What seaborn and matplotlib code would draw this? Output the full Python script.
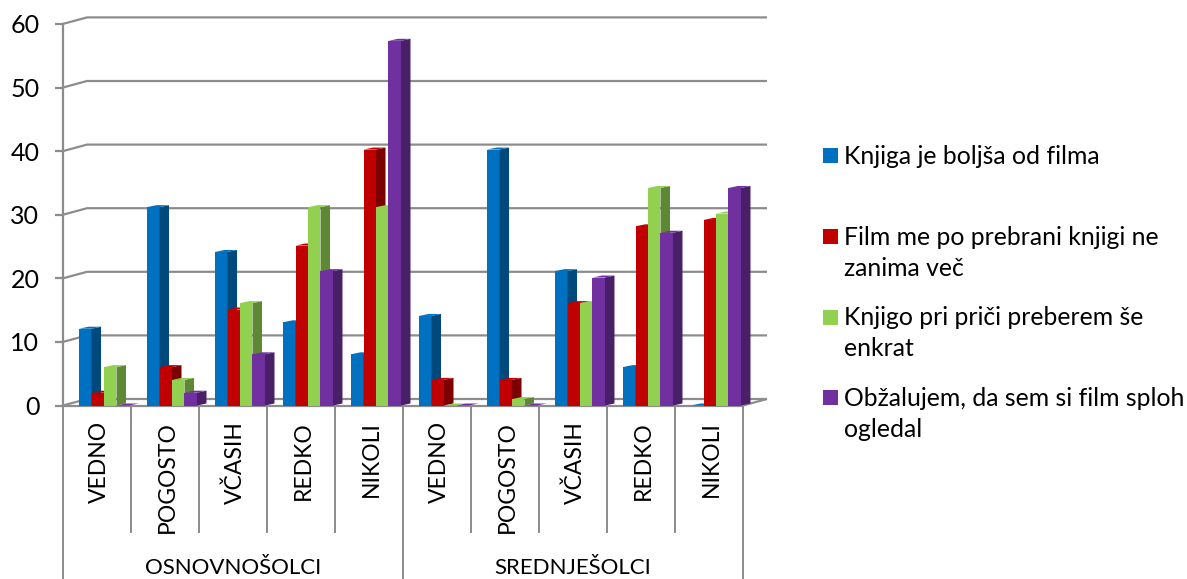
import matplotlib
matplotlib.use("Agg")
import matplotlib.pyplot as plt
from matplotlib.patches import Polygon, Rectangle
import pandas as pd
import seaborn as sns

# Survey answers, per frequency and school level
levels = ["OSNOVNOŠOLCI", "SREDNJEŠOLCI"]
frequencies = ["VEDNO", "POGOSTO", "VČASIH", "REDKO", "NIKOLI"]
series_names = [
    "Knjiga je boljša od filma",
    "Film me po prebrani knjigi ne\nzanima več",
    "Knjigo pri priči preberem še\nenkrat",
    "Obžalujem, da sem si film sploh\nogledal",
]
better_book = [12, 31, 24, 13, 8, 14, 40, 21, 6, 0]
no_interest = [2, 6, 15, 25, 40, 4, 4, 16, 28, 29]
read_again = [6, 4, 16, 31, 31, 0, 1, 16, 34, 30]
regret_film = [0, 2, 8, 21, 57, 0, 0, 20, 27, 34]
y_ticks = [0, 10, 20, 30, 40, 50, 60]

front_colors = ["#0070C0", "#C00000", "#92D050", "#7030A0"]
side_colors = ["#00497D", "#7D0000", "#5F8834", "#491F68"]
line_color = "#8C8C8C"
text_color = "#000000"

W, H = 1187, 579
PX_X = 1 / 68.0          # data units per pixel, horizontally
PX_Y = 1 / 6.36          # data units per pixel, vertically
X_LO = -41 * PX_X        # left edge of the plot, in category units
NEAR_PLANE = 1.006       # bars stand slightly nearer than the axis plane

sns.set_theme(style="white")
plt.rcParams["font.family"] = ["Lato", "DejaVu Sans"]

rows = []
for name, vals in zip(series_names, [better_book, no_interest, read_again, regret_film]):
    for i, v in enumerate(vals):
        rows.append({"slot": i, "series": name, "value": v})
df = pd.DataFrame(rows)

fig = plt.figure(figsize=(W / 100, H / 100), dpi=100, facecolor="white")
ax = fig.add_axes([63 / W, 1 - 405.5 / H, 680 / W, 381.6 / H])
ax.set_facecolor("none")

sns.barplot(
    data=df, x="slot", y="value", hue="series",
    hue_order=series_names, palette=front_colors, width=0.735, gap=0,
    dodge=True, errorbar=None, saturation=1, legend=False, ax=ax,
    linewidth=0, zorder=3,
)
ax.set_xlim(X_LO, X_LO + 10)
ax.set_ylim(0, 60)
ax.set_xlabel("")
ax.set_ylabel("")

# Back wall depth, and the depth of each bar
wall_dx, wall_dy = 24 * PX_X, 6.5 * PX_Y
bar_dx, bar_dy = 9.5 * PX_X, 2 * PX_Y

# Extrude every bar: side and top faces sit just above the bar's own front
for k, container in enumerate(ax.containers):
    front_z = 3 + 2 * k
    for patch in container:
        patch.set_zorder(front_z)
        patch.set_height(patch.get_height() * NEAR_PLANE)
        x0, w, h = patch.get_x(), patch.get_width(), patch.get_height()
        x1 = x0 + w
        side = Polygon([(x1, 0), (x1 + bar_dx, bar_dy), (x1 + bar_dx, h + bar_dy), (x1, h)],
                       closed=True, fc=side_colors[k], ec="none", zorder=front_z + 1, clip_on=False)
        top = Polygon([(x0, h), (x0 + bar_dx, h + bar_dy), (x1 + bar_dx, h + bar_dy), (x1, h)],
                      closed=True, fc=front_colors[k], ec="none", zorder=front_z + 1, clip_on=False)
        ax.add_patch(side)
        ax.add_patch(top)

# Gridlines run across the back wall and fold forward along the left wall
line_kw = dict(color=line_color, lw=1.6, solid_capstyle="butt", clip_on=False)
x_hi = X_LO + 10
for v in y_ticks:
    ax.plot([X_LO, X_LO + wall_dx, x_hi + wall_dx], [v, v + wall_dy, v + wall_dy], zorder=1, **line_kw)
ax.plot([x_hi, x_hi + wall_dx], [0, wall_dy], zorder=1, **line_kw)

for side_name in ["top", "right"]:
    ax.spines[side_name].set_visible(False)
for side_name in ["left", "bottom"]:
    ax.spines[side_name].set_color(line_color)
    ax.spines[side_name].set_linewidth(1.6)
    ax.spines[side_name].set_zorder(2)

ax.set_yticks(y_ticks)
ax.set_yticklabels([str(v) for v in y_ticks], fontsize=18, color=text_color)
ax.tick_params(axis="y", length=6, width=1.6, color=line_color, pad=11, left=True)

# Category labels read upward beneath the axis
ax.set_xticks([X_LO + 0.5 + 2.5 * PX_X + i for i in range(10)])
ax.set_xticklabels(frequencies * 2, rotation=90, fontsize=16.5, color=text_color)
ax.tick_params(axis="x", length=0, pad=11, bottom=False)

# Two-tier category separators and the school-level labels
sep_kw = dict(color=line_color, lw=1.4, solid_capstyle="butt", clip_on=False, zorder=1)
for i in range(11):
    bottom = 579 if i % 5 == 0 else 533
    ax.plot([X_LO + i, X_LO + i], [0, -(bottom - 405.5) * PX_Y], **sep_kw)
for j, level in enumerate(levels):
    ax.text(X_LO + 2.5 + 5 * j, -(567.5 - 405.5) * PX_Y, level, fontsize=16, color=text_color,
            ha="center", va="center", clip_on=False)

# Legend swatches line up with the first line of each entry
swatch_rows = [155.5, 236.5, 317.5, 397.5]
text_rows = [156.5, 253, 333, 414]
for name, color, swatch_y, text_y in zip(series_names, front_colors, swatch_rows, text_rows):
    fig.patches.append(Rectangle((823 / W, 1 - (swatch_y + 7.5) / H), 15 / W, 15 / H,
                                 transform=fig.transFigure, fc=color, ec="none"))
    fig.text(844 / W, 1 - text_y / H, name, fontsize=17.8, color=text_color,
             ha="left", va="center", linespacing=1.47)

fig.savefig("out.png", dpi=100)
